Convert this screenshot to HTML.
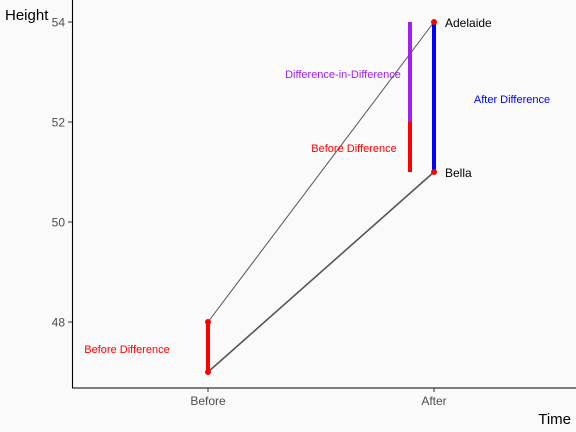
<!DOCTYPE html>
<html><head><meta charset="utf-8"><style>
body{margin:0;background:#fafafa}
svg{display:block;font-family:"Liberation Sans",sans-serif}
</style></head><body>
<svg width="576" height="432">
<rect width="576" height="432" fill="#fafafa"/>
<g id="plot"></g>
<line x1="72.5" y1="0" x2="72.5" y2="388" stroke="#000" stroke-width="1.1"/>
<line x1="72" y1="388" x2="576" y2="388" stroke="#000" stroke-width="1.1"/>
<g id="yt"></g>
<g id="xt"></g>
<text x="5" y="20" font-size="15" fill="#000">Height</text>
<text x="571" y="424" font-size="15" fill="#000" text-anchor="end">Time</text>
</svg>
<script>
const categories=["Before","After"];
const names=["Adelaide","Bella"];
const adelaide=[48,54];
const bella=[47,51];
const yTicks=[48,50,52,54];
const NS="http://www.w3.org/2000/svg";
function X(i){return 208+i*226;}
function Y(v){return 22+(54-v)*50;}
function mk(t,a,p){const e=document.createElementNS(NS,t);for(const k in a)e.setAttribute(k,a[k]);(p||document.getElementById('plot')).appendChild(e);return e;}
const plot=document.getElementById('plot');
[adelaide,bella].forEach((s,si)=>{
 let l=mk('line',{x1:X(0),y1:Y(s[0]),x2:X(1),y2:Y(s[1]),stroke:'#555','stroke-width':si?1.6:1});
 
 
});
let e;
e=mk('line',{x1:X(0),y1:Y(bella[0]),x2:X(0),y2:Y(adelaide[0]),stroke:'#f00','stroke-width':4});

e=mk('line',{x1:X(1),y1:Y(bella[1]),x2:X(1),y2:Y(adelaide[1]),stroke:'#00f','stroke-width':4});

const bd=adelaide[0]-bella[0];
e=mk('line',{x1:X(1)-24,y1:Y(bella[1]),x2:X(1)-24,y2:Y(bella[1]+bd),stroke:'#f00','stroke-width':4});

e=mk('line',{x1:X(1)-24,y1:Y(bella[1]+bd),x2:X(1)-24,y2:Y(adelaide[1]),stroke:'#a020f0','stroke-width':4});

[adelaide,bella].forEach((s,si)=>s.forEach((v,i)=>{
 let c=mk('circle',{cx:X(i),cy:Y(v),r:3,fill:'#f00'});
 
 
}));
function txt(x,y,s,fill,name,size,anchor){let t=mk('text',{x:x,y:y,fill:fill,'font-size':size||11,'text-anchor':anchor||'middle'});t.textContent=s;}
txt(127,353,'Before Difference','#f00','label-before-difference');
txt(354,152,'Before Difference','#f00','label-before-difference-after');
txt(343,78,'Difference-in-Difference','#a020f0','label-did');
txt(512,103,'After Difference','#00f','label-after-difference');
txt(445,27,'Adelaide','#000','label-adelaide',12,'start');
txt(445,177,'Bella','#000','label-bella',12,'start');
const yt=document.getElementById('yt');
yTicks.forEach(v=>{
 let l=mk('line',{x1:68,y1:Y(v),x2:72,y2:Y(v),stroke:'#333'},yt);
 
 let t=mk('text',{x:65,y:Y(v)+4.5,'text-anchor':'end','font-size':12,fill:'#4d4d4d'},yt);t.textContent=v;
 
});
const xt=document.getElementById('xt');
categories.forEach((c,i)=>{
 let l=mk('line',{x1:X(i),y1:388,x2:X(i),y2:392,stroke:'#333'},xt);
 
 let t=mk('text',{x:X(i),y:405,'text-anchor':'middle','font-size':12,fill:'#4d4d4d'},xt);t.textContent=c;
 
});
</script>
</body></html>
